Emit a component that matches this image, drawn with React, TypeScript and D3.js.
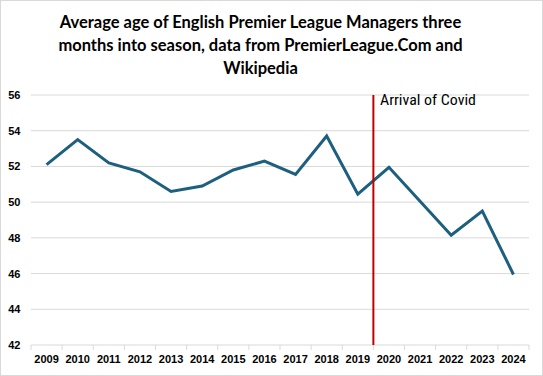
import React from "react";
import * as d3 from "d3";

const years = ["2009","2010","2011","2012","2013","2014","2015","2016","2017","2018","2019","2020","2021","2022","2023","2024"];
const avgAge = [52.1,53.5,52.2,51.7,50.6,50.9,51.8,52.3,51.55,53.7,50.45,51.95,50.05,48.15,49.5,45.95];
const yTicks = [42,44,46,48,50,52,54,56];
const titleLines = [
  "Average age of English Premier League Managers three",
  "months into season, data from PremierLeague.Com and",
  "Wikipedia",
];
const covidLabel = "Arrival of Covid";
const covidAfterYear = "2019";

export default function App() {
  const W = 543, H = 376;
  const x = d3.scaleBand<string>().domain(years).range([31, 529]);
  const y = d3.scaleLinear().domain([42, 56]).range([345, 95]);
  const line = d3.line<number>()
    .x((_, i) => (x(years[i]) as number) + x.bandwidth() / 2)
    .y((d) => y(d));
  const covidX = (x(covidAfterYear) as number) + x.bandwidth();
  const tickXs = years.map((yr) => x(yr) as number).concat([529]);
  return (
    <svg width={W} height={H} style={{ position: "fixed", left: 0, top: 0 }}>
      <rect x={0.5} y={0.5} width={W - 1} height={H - 1} fill="#fff" stroke="#d9d9d9" />
      {titleLines.map((t, i) => (
        <text key={i} x={260.5} y={27.5 + i * 23} textAnchor="middle"
          fontFamily="Lato, 'Open Sans', sans-serif" fontWeight={700} fontSize={16.5} fill="#000">{t}</text>
      ))}
      {yTicks.map((t) => (
        <g key={t}>
          {t !== 42 && <line x1={31} x2={529} y1={y(t)} y2={y(t)} stroke="#d9d9d9" strokeWidth={1} />}
          <text x={20.5} y={y(t) + 4} textAnchor="end" fontFamily="'Liberation Sans', Arial, sans-serif"
            fontWeight={700} fontSize={11} fill="#000">{t}</text>
        </g>
      ))}
      <line x1={31} x2={529} y1={y(42)} y2={y(42)} stroke="#d9d9d9" strokeWidth={1} />
      {tickXs.map((tx, i) => (
        <line key={i} x1={tx} x2={tx} y1={y(42)} y2={y(42) + 5} stroke="#d9d9d9" strokeWidth={1} />
      ))}
      {years.map((yr) => (
        <text key={yr} x={(x(yr) as number) + x.bandwidth() / 2} y={363} textAnchor="middle"
          fontFamily="'Liberation Sans', Arial, sans-serif" fontWeight={700} fontSize={11} fill="#000">{yr}</text>
      ))}
      <path d={line(avgAge) || ""} fill="none" stroke="#1d5f7e" strokeWidth={3} strokeLinejoin="miter" />
      <line x1={covidX} x2={covidX} y1={y(56)} y2={y(42)} stroke="#c00000" strokeWidth={2} />
      <text x={380} y={105} fontFamily="'Liberation Sans Narrow', 'Roboto Condensed', Roboto, sans-serif"
        fontSize={14} fill="#000" textLength={96} lengthAdjust="spacingAndGlyphs">{covidLabel}</text>
    </svg>
  );
}
